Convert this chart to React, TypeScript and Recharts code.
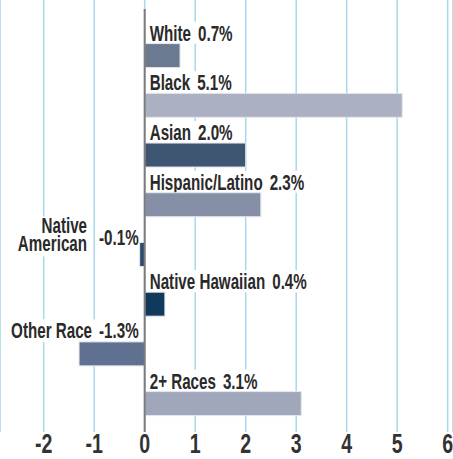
import { BarChart, Bar, XAxis, YAxis, CartesianGrid, ReferenceLine } from 'recharts'

const categories = ['White', 'Black', 'Asian', 'Hispanic/Latino', 'Native American', 'Native Hawaiian', 'Other Race', '2+ Races']
const changes = [0.7, 5.1, 2.0, 2.3, -0.1, 0.4, -1.3, 3.1]
const valueLabels = ['0.7%', '5.1%', '2.0%', '2.3%', '-0.1%', '0.4%', '-1.3%', '3.1%']
const xTicks = [-2, -1, 0, 1, 2, 3, 4, 5, 6]

const barColors = ['#6b7991', '#abb0c3', '#3e5672', '#8590a6', '#2d4b6c', '#10395b', '#607090', '#a0a7ba']

const data = categories.map((name, i) => ({ name, change: changes[i] }))

// condensed look: Liberation Sans squeezed horizontally
const FONT = '"Liberation Sans", Arial, sans-serif'
const LABEL_SIZE = 22
const SX = 0.69
const TICK_SIZE = 28
const TICK_SX = 0.7
const TEXT = '#2a2a2a'

let ctx: CanvasRenderingContext2D | null = null
function textWidth(s: string) {
  if (!ctx) ctx = document.createElement('canvas').getContext('2d')
  if (!ctx) return s.length * 9
  ctx.font = `bold ${LABEL_SIZE}px ${FONT}`
  return ctx.measureText(s).width * SX
}

function Txt({ x, y, anchor = 'start', children }: any) {
  return (
    <text
      transform={`translate(${x},${y}) scale(${SX},1)`}
      textAnchor={anchor}
      fontFamily={FONT}
      fontSize={LABEL_SIZE}
      fontWeight={700}
      fill={TEXT}
    >
      {children}
    </text>
  )
}

function BarWithLabel(props: any) {
  const { x, y, width, height, index } = props
  const left = Math.min(x, x + width)
  const right = Math.max(x, x + width)
  const w = right - left
  const name = categories[index]
  const val = valueLabels[index]
  const gap = 7
  const nameW = textWidth(name)
  const valW = textWidth(val)
  const bar = (
    <rect x={left} y={y} width={w} height={height} fill={barColors[index]} stroke="#e6e8ee" strokeWidth={1} />
  )

  if (changes[index] >= 0) {
    const tx = left + 5
    const base = y - 3
    return (
      <g>
        <rect x={tx - 3} y={base - 19} width={nameW + gap + valW + 6} height={22} fill="#fff" />
        <Txt x={tx} y={base}>
          <tspan>{name}</tspan>
          <tspan dx={gap / SX}>{val}</tspan>
        </Txt>
        {bar}
      </g>
    )
  }

  const endX = right - 6
  if (w < 20) {
    // tiny bar: name on two lines, left of the value
    const words = name.split(' ')
    const nameEnd = endX - valW - 12
    const maxW = Math.max(...words.map(textWidth))
    return (
      <g>
        <rect x={nameEnd - maxW - 3} y={y - 26} width={maxW + 6} height={40} fill="#fff" />
        <rect x={endX - valW - 3} y={y - 15} width={valW + 6} height={22} fill="#fff" />
        <Txt x={nameEnd} y={y - 9} anchor="end">{words[0]}</Txt>
        <Txt x={nameEnd} y={y + 9} anchor="end">{words.slice(1).join(' ')}</Txt>
        <Txt x={endX} y={y + 2.5} anchor="end">{val}</Txt>
        {bar}
      </g>
    )
  }

  const base = y - 3.5
  const total = nameW + gap + valW
  return (
    <g>
      <rect x={endX - total - 3} y={base - 19} width={total + 6} height={22.5} fill="#fff" />
      <Txt x={endX} y={base} anchor="end">
        <tspan>{name}</tspan>
        <tspan dx={gap / SX}>{val}</tspan>
      </Txt>
      {bar}
    </g>
  )
}

function XTick({ x, y, payload }: any) {
  return (
    <text
      transform={`translate(${x},${y + 19}) scale(${TICK_SX},1)`}
      textAnchor="middle"
      fontFamily={FONT}
      fontSize={TICK_SIZE}
      fontWeight={700}
      fill="#333"
    >
      {payload.value}
    </text>
  )
}

function ZeroLine(p: any) {
  const top = Math.min(p.y1, p.y2)
  const bottom = Math.max(p.y1, p.y2)
  return <line x1={p.x1} x2={p.x2} y1={top + 9} y2={bottom} stroke="#7c7c7c" strokeWidth={2} />
}

export default function App() {
  return (
    <div style={{ position: 'absolute', left: 0, top: 0, background: '#fff' }}>
      <BarChart
        width={453}
        height={459}
        data={data}
        layout="vertical"
        margin={{ top: 0, right: 0, left: 0, bottom: 0 }}
        barSize={24}
      >
        <CartesianGrid horizontal={false} stroke="#a6d8ea" strokeWidth={1.5} />
        <XAxis
          type="number"
          domain={[-2.865, 6.105]}
          ticks={xTicks}
          interval={0}
          allowDataOverflow
          axisLine={false}
          tickLine={false}
          tickSize={0}
          tickMargin={2}
          height={27}
          tick={XTick}
        />
        <YAxis type="category" dataKey="name" hide width={0} padding={{ top: 30.6, bottom: 3.7 }} />
        <Bar dataKey="change" isAnimationActive={false} shape={BarWithLabel} />
        <ReferenceLine x={0} stroke="#7c7c7c" strokeWidth={2} shape={ZeroLine} />
      </BarChart>
    </div>
  )
}
